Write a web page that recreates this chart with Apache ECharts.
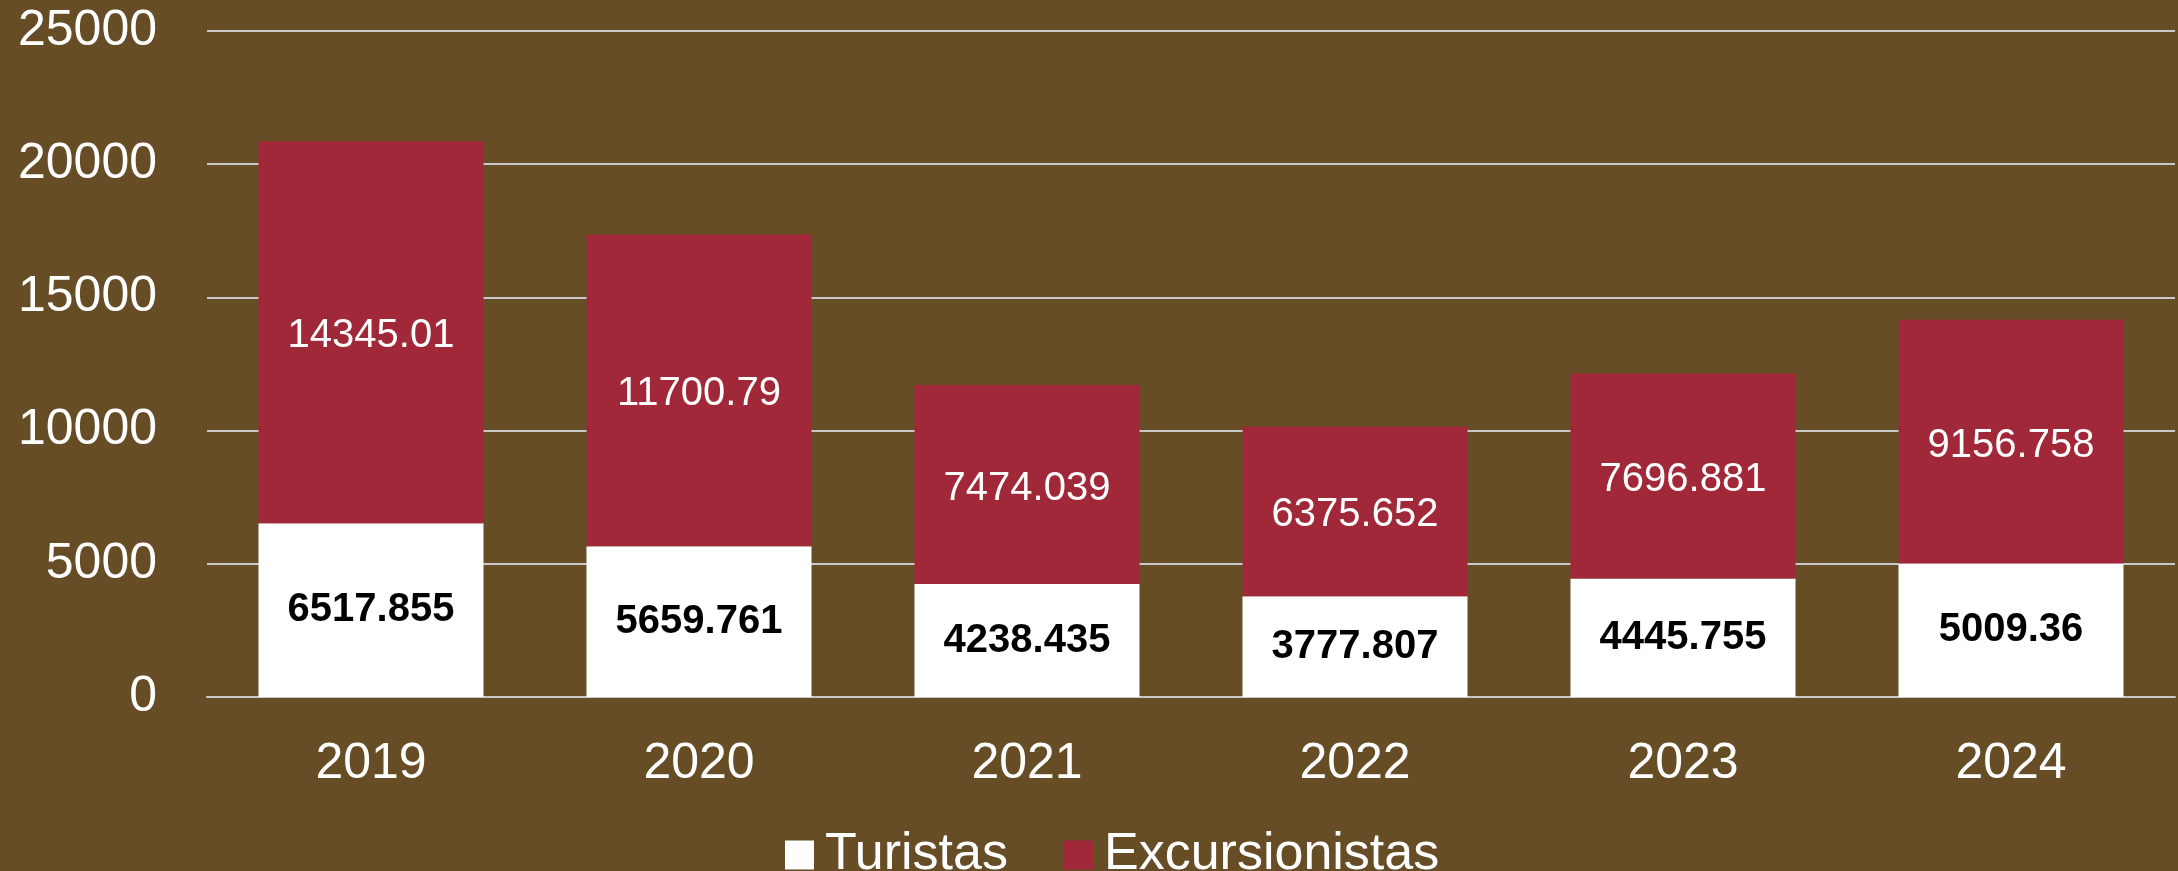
<!DOCTYPE html>
<html>
<head>
<meta charset="utf-8">
<script src="https://cdn.jsdelivr.net/npm/echarts@6/dist/echarts.min.js"></script>
<style>
  html, body { margin: 0; padding: 0; background: #664d26; }
  #chart { width: 2178px; height: 871px; }
</style>
</head>
<body>
<div id="chart"></div>
<script>
const years = ['2019', '2020', '2021', '2022', '2023', '2024']
const turistas = [6517.855, 5659.761, 4238.435, 3777.807, 4445.755, 5009.36]
const excursionistas = [14345.01, 11700.79, 7474.039, 6375.652, 7696.881, 9156.758]
const yTicks = [0, 5000, 10000, 15000, 20000, 25000]

const font = "'Liberation Sans', Arial, sans-serif"
const chart = echarts.init(document.getElementById('chart'))

chart.setOption({
  backgroundColor: '#664d26',
  animation: false,
  textStyle: { fontFamily: font },
  grid: { left: 207, right: 3, top: 31, bottom: 174, containLabel: false },
  legend: {
    left: 780,
    top: 824,
    itemWidth: 29,
    itemHeight: 29,
    itemGap: 56,
    icon: 'rect',
    textStyle: { color: '#fff', fontSize: 52, fontFamily: font, padding: [0, 0, 0, 6] },
    data: ['Turistas', 'Excursionistas']
  },
  xAxis: {
    type: 'category',
    data: years,
    axisTick: { show: false },
    axisLine: { lineStyle: { color: '#c8c8c8', width: 2 } },
    axisLabel: { color: '#fff', fontSize: 50, margin: 42 }
  },
  yAxis: {
    type: 'value',
    min: yTicks[0],
    max: yTicks[yTicks.length - 1],
    interval: 5000,
    axisLine: { show: false },
    axisTick: { show: false },
    axisLabel: { color: '#fff', fontSize: 50, margin: 50, formatter: v => String(v) },
    splitLine: { lineStyle: { color: '#c8c8c8', width: 2 } }
  },
  series: [
    {
      name: 'Turistas',
      type: 'bar',
      stack: 'total',
      barCategoryGap: '31.4%',
      data: turistas,
      itemStyle: { color: '#ffffff' },
      label: {
        show: true,
        position: 'inside',
        color: '#000',
        fontWeight: 'bold',
        fontSize: 40,
        fontFamily: font
      }
    },
    {
      name: 'Excursionistas',
      type: 'bar',
      stack: 'total',
      data: excursionistas,
      itemStyle: { color: '#a12838' },
      label: {
        show: true,
        position: 'inside',
        offset: [0, 4],
        color: '#fff',
        fontSize: 40,
        fontFamily: font
      }
    }
  ]
})
</script>
</body>
</html>
